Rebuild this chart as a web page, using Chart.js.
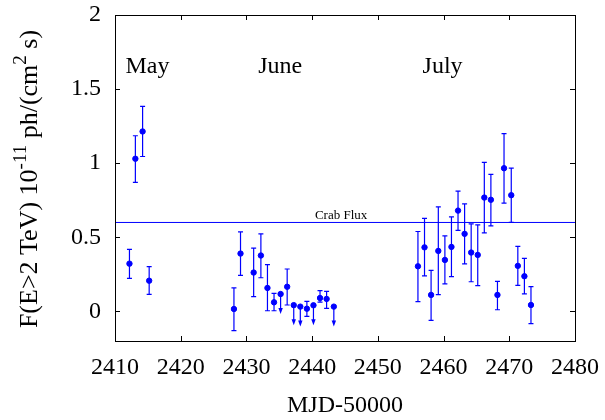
<!DOCTYPE html>
<html>
<head>
<meta charset="utf-8">
<script src="https://cdn.jsdelivr.net/npm/chart.js@4.4.1/dist/chart.umd.min.js"></script>
<style>body{margin:0;background:#fff}</style>
</head>
<body>
<canvas id="flujoChart" width="605" height="420"></canvas>
<script>
// Detections with error bars (MJD-50000, flux, lower, upper)
var mjd = [2412.2, 2413.1, 2414.2, 2415.2,
    2428.1, 2429.1, 2431.1, 2432.2, 2433.2, 2434.2, 2436.2, 2439.2, 2441.2, 2442.2,
    2456.1, 2457.1, 2458.1, 2459.2, 2460.2, 2461.2, 2462.2, 2463.2, 2464.2, 2465.2,
    2466.2, 2467.2, 2468.2, 2469.2, 2470.3, 2471.3, 2472.3, 2473.3];
var flujo = [0.322, 1.03, 1.214, 0.207,
    0.016, 0.39, 0.262, 0.377, 0.158, 0.061, 0.166, 0.018, 0.09, 0.084,
    0.304, 0.432, 0.111, 0.408, 0.347, 0.435, 0.68, 0.523, 0.397, 0.381,
    0.768, 0.753, 0.111, 0.966, 0.784, 0.307, 0.237, 0.043];
var flujoMin = [0.223, 0.87, 1.045, 0.115,
    -0.13, 0.243, 0.1, 0.227, 0.004, 0.004, 0.043, -0.034, 0.063, 0.02,
    0.066, 0.239, -0.061, 0.113, 0.185, 0.234, 0.547, 0.32, 0.2, 0.174,
    0.53, 0.577, 0.011, 0.73, 0.6, 0.176, 0.118, -0.083];
var flujoMax = [0.419, 1.185, 1.383, 0.302,
    0.158, 0.537, 0.427, 0.523, 0.316, 0.122, 0.286, 0.068, 0.14, 0.135,
    0.539, 0.628, 0.277, 0.705, 0.509, 0.638, 0.811, 0.726, 0.59, 0.584,
    1.005, 0.924, 0.203, 1.199, 0.966, 0.439, 0.358, 0.167];

// Upper limits
var limMjd = [2435.2, 2437.2, 2438.2, 2440.2, 2443.3];
var limFlujo = [0.117, 0.042, 0.032, 0.041, 0.032];

var crabFlux = 0.6;
var xTicks = [2410, 2420, 2430, 2440, 2450, 2460, 2470, 2480];
var yTicks = [0, 0.5, 1, 1.5, 2];

var meses = ['May', 'June', 'July'];
var mesesX = [2411.6, 2431.8, 2456.8];
var mesesY = 1.61;

var azul = 'rgb(0,0,255)';
var serif = "'Liberation Serif', 'Times New Roman', serif";

var puntos = mjd.map(function (x, i) { return {x: x, y: flujo[i]}; });
var limites = limMjd.map(function (x, i) { return {x: x, y: limFlujo[i]}; });

// marco con ticks hacia dentro
var marcoPlugin = {
    id: 'marco',
    afterDraw: function (chart) {
        var ctx = chart.ctx, a = chart.chartArea;
        var sx = chart.scales.x, sy = chart.scales.y;
        ctx.save();
        ctx.strokeStyle = '#000';
        ctx.lineWidth = 1;
        ctx.strokeRect(Math.round(a.left) + 0.5, Math.round(a.top) + 0.5,
            Math.round(a.right - a.left), Math.round(a.bottom - a.top));
        ctx.beginPath();
        xTicks.forEach(function (v) {
            var px = Math.round(sx.getPixelForValue(v)) + 0.5;
            ctx.moveTo(px, a.bottom); ctx.lineTo(px, a.bottom - 5);
            ctx.moveTo(px, a.top); ctx.lineTo(px, a.top + 5);
        });
        yTicks.forEach(function (v) {
            var py = Math.round(sy.getPixelForValue(v)) + 0.5;
            ctx.moveTo(a.left, py); ctx.lineTo(a.left + 5, py);
            ctx.moveTo(a.right, py); ctx.lineTo(a.right - 5, py);
        });
        ctx.stroke();
        ctx.restore();
    }
};

// barras de error y flechas de limite superior
var erroresPlugin = {
    id: 'errores',
    beforeDatasetsDraw: function (chart) {
        var ctx = chart.ctx;
        var sx = chart.scales.x, sy = chart.scales.y;
        ctx.save();
        ctx.strokeStyle = azul;
        ctx.fillStyle = azul;
        ctx.lineWidth = 1.2;
        mjd.forEach(function (x, i) {
            var px = sx.getPixelForValue(x);
            var y1 = sy.getPixelForValue(flujoMin[i]);
            var y2 = sy.getPixelForValue(flujoMax[i]);
            ctx.beginPath();
            ctx.moveTo(px, y1); ctx.lineTo(px, y2);
            ctx.moveTo(px - 2.5, y1); ctx.lineTo(px + 2.5, y1);
            ctx.moveTo(px - 2.5, y2); ctx.lineTo(px + 2.5, y2);
            ctx.stroke();
        });
        limMjd.forEach(function (x, i) {
            var px = sx.getPixelForValue(x);
            var py = sy.getPixelForValue(limFlujo[i]);
            ctx.beginPath();
            ctx.moveTo(px, py); ctx.lineTo(px, py + 16);
            ctx.stroke();
            ctx.beginPath();
            ctx.moveTo(px - 2.2, py + 14); ctx.lineTo(px + 2.2, py + 14); ctx.lineTo(px, py + 20);
            ctx.closePath();
            ctx.fill();
        });
        ctx.restore();
    }
};

// textos: meses, Crab Flux y titulo del eje y
var textosPlugin = {
    id: 'textos',
    afterDraw: function (chart) {
        var ctx = chart.ctx;
        var sx = chart.scales.x, sy = chart.scales.y;
        ctx.save();
        ctx.fillStyle = '#000';
        ctx.textBaseline = 'alphabetic';
        ctx.font = '24px ' + serif;
        meses.forEach(function (m, i) {
            ctx.textAlign = 'left';
            ctx.fillText(m, sx.getPixelForValue(mesesX[i]), sy.getPixelForValue(mesesY));
        });
        ctx.font = '13px ' + serif;
        ctx.textAlign = 'center';
        ctx.fillText('Crab Flux', sx.getPixelForValue(2444.4), sy.getPixelForValue(crabFlux) - 3);

        // titulo eje y con superindices
        var partes = [['F(E>2 TeV) 10', 0], ['-11', 1], [' ph/(cm', 0], ['2', 1], [' s)', 0]];
        ctx.translate(37, 179);
        ctx.rotate(-Math.PI / 2);
        ctx.textAlign = 'left';
        var total = 0;
        partes.forEach(function (p) {
            ctx.font = (p[1] ? '19px ' : '26px ') + serif;
            total += ctx.measureText(p[0]).width;
        });
        var pos = -total / 2;
        partes.forEach(function (p) {
            ctx.font = (p[1] ? '19px ' : '26px ') + serif;
            ctx.fillText(p[0], pos, p[1] ? -11 : 0);
            pos += ctx.measureText(p[0]).width;
        });
        ctx.restore();
    }
};

var flujoConfig = {
    type: 'scatter',
    data: {
        datasets: [{
            label: 'Crab',
            type: 'line',
            data: [{x: xTicks[0], y: crabFlux}, {x: xTicks[xTicks.length - 1], y: crabFlux}],
            borderColor: azul,
            borderWidth: 1,
            pointRadius: 0
        }, {
            label: 'Flujo',
            data: puntos,
            backgroundColor: azul,
            borderColor: azul,
            pointRadius: 2.7
        }, {
            label: 'Limites',
            data: limites,
            backgroundColor: azul,
            borderColor: azul,
            pointRadius: 2.7
        }]
    },
    options: {
        responsive: false,
        animation: false,
        layout: {padding: {top: 15, right: 30, left: 0, bottom: 0}},
        plugins: {legend: {display: false}, tooltip: {enabled: false}},
        scales: {
            x: {
                type: 'linear',
                min: 2410,
                max: 2480,
                grid: {display: false, drawTicks: false},
                border: {display: false},
                afterBuildTicks: function (s) { s.ticks = xTicks.map(function (v) { return {value: v}; }); },
                afterFit: function (s) { s.height = 79; s.paddingLeft = 0; s.paddingRight = 0; },
                ticks: {
                    padding: 12,
                    color: '#000',
                    font: {family: serif, size: 24},
                    maxRotation: 0,
                    callback: function (v) { return String(v); }
                },
                title: {
                    display: true,
                    text: 'MJD-50000',
                    color: '#000',
                    font: {family: serif, size: 24},
                    padding: {top: 0, bottom: 0}
                }
            },
            y: {
                min: -0.2,
                max: 2,
                grid: {display: false, drawTicks: false},
                border: {display: false},
                afterBuildTicks: function (s) { s.ticks = yTicks.map(function (v) { return {value: v}; }); },
                afterFit: function (s) { s.width = 115; s.paddingTop = 0; s.paddingBottom = 0; },
                ticks: {
                    padding: 14,
                    color: '#000',
                    font: {family: serif, size: 24},
                    callback: function (v) { return String(v); }
                }
            }
        }
    },
    plugins: [erroresPlugin, marcoPlugin, textosPlugin]
};

var ctxFlujo = document.getElementById('flujoChart').getContext('2d');
var flujoChart = new Chart(ctxFlujo, flujoConfig);
</script>
</body>
</html>
